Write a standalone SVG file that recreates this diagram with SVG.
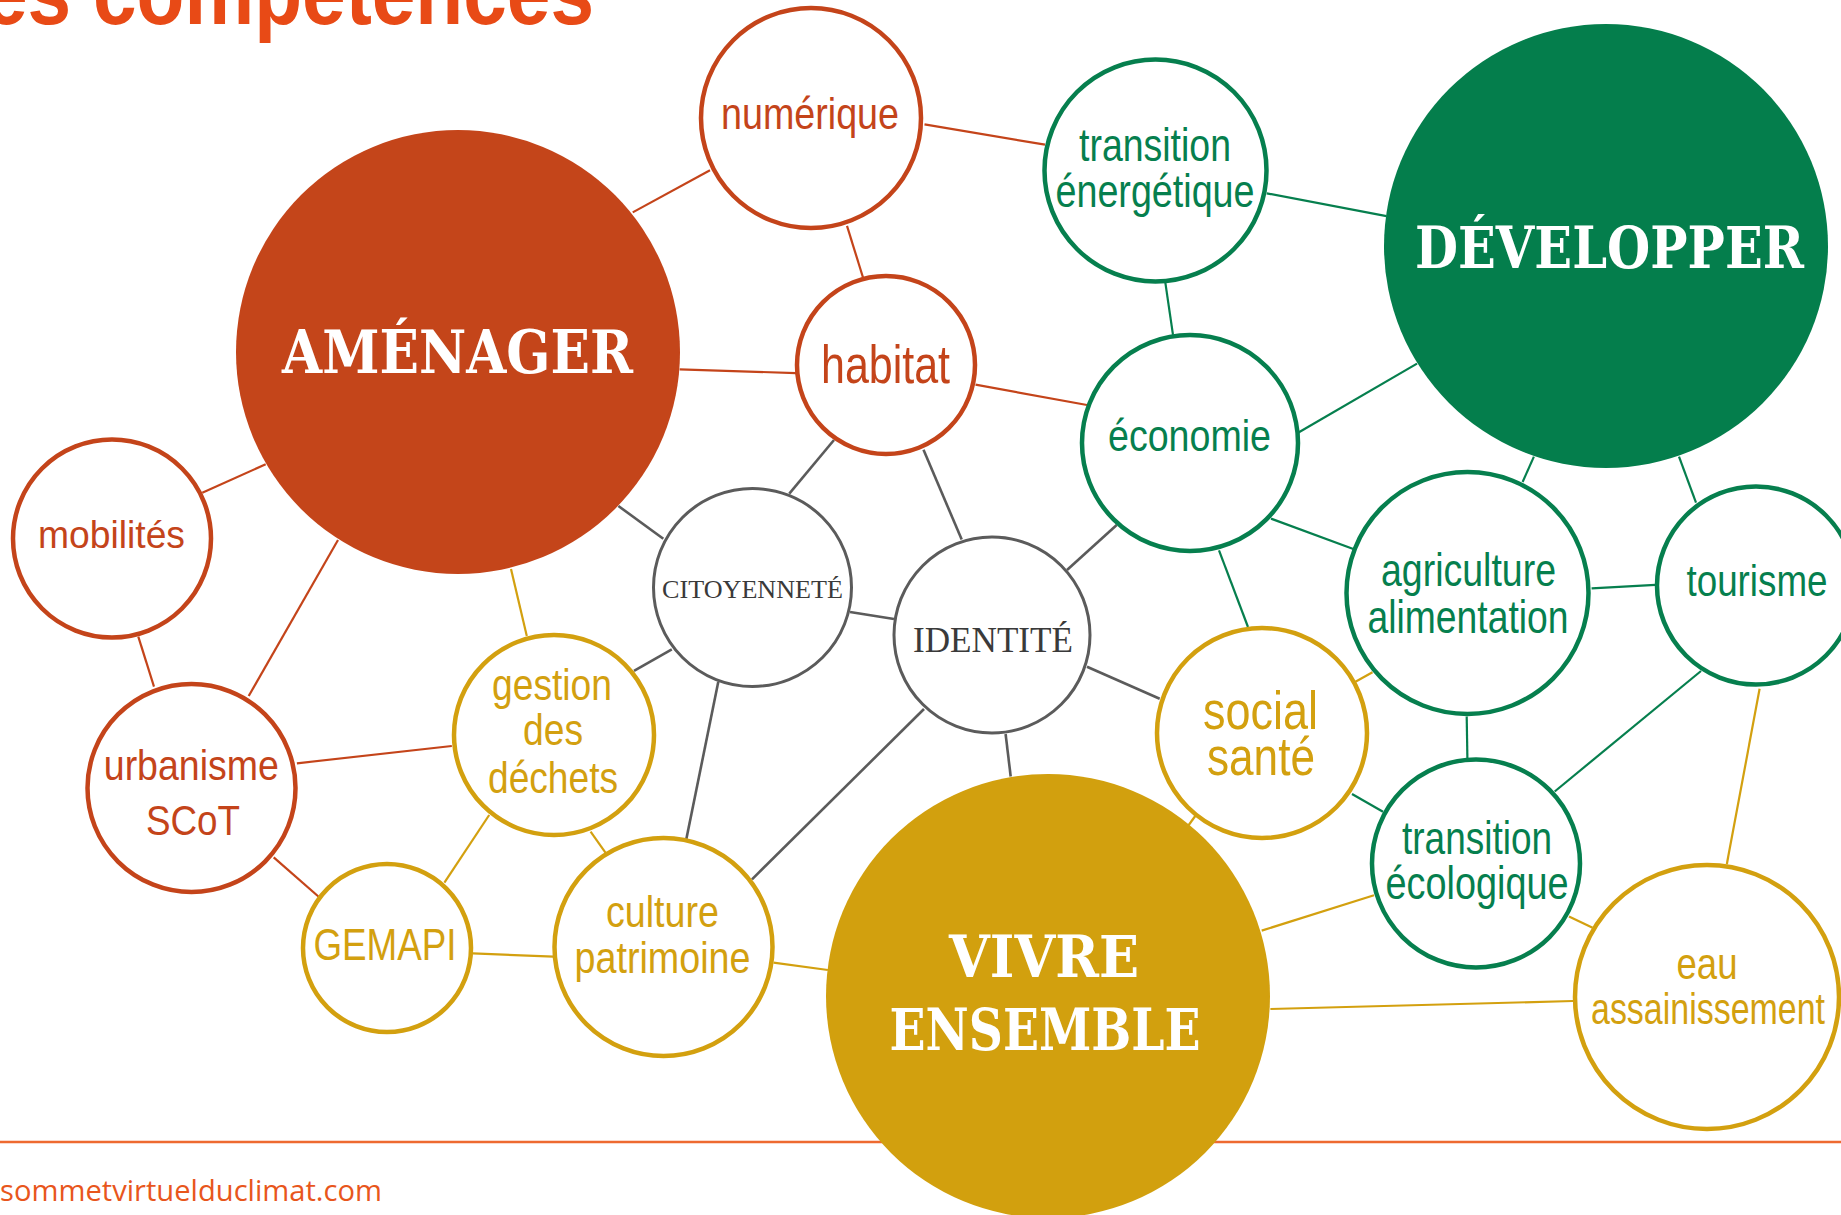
<svg xmlns="http://www.w3.org/2000/svg" width="1841" height="1215" viewBox="0 0 1841 1215">
<style>
.lbl{font-family:"Liberation Sans",Arial,sans-serif;text-anchor:middle}
.big{font-family:"DejaVu Serif","Liberation Serif",serif;font-weight:700;fill:#fff;text-anchor:middle}
.thin{font-family:"Liberation Serif","DejaVu Serif",serif;fill:#3a3a3a;text-anchor:middle}
.o{stroke:#C4441A}
.g{stroke:#067F4E}
.y{stroke:#D3A00F}
.k{stroke:#5B5B5B}
.n{fill:#fff;stroke-width:4.5}
.nk{fill:#fff;stroke-width:3}
.to{fill:#C4441A}.tg{fill:#067F4E}.ty{fill:#D3A00F}
#connectors line{stroke-width:2.2;fill:none}
#connectors line.k{stroke-width:2.6}
</style>
<rect width="1841" height="1215" fill="#fff"/>
<text x="-16" y="24" font-family="'Liberation Sans Narrow','Liberation Sans',Arial,sans-serif" font-weight="700" font-size="90" fill="#E84A16" textLength="610" lengthAdjust="spacingAndGlyphs">es compétences</text>
<line x1="0" y1="1142" x2="1841" y2="1142" stroke="#EE6A30" stroke-width="2.6"/>
<text x="0" y="1201" font-family="'Open Sans','Noto Sans',sans-serif" font-size="29" fill="#E8561C" textLength="382" lengthAdjust="spacingAndGlyphs">sommetvirtuelduclimat.com</text>
<g id="connectors">
<line class="o" x1="632.7" y1="212.4" x2="710" y2="170.3"/>
<line class="o" x1="924.5" y1="124.4" x2="1045" y2="144.7"/>
<line class="o" x1="847" y1="225.8" x2="863" y2="277.5"/>
<line class="o" x1="679.6" y1="369.3" x2="796" y2="373.1"/>
<line class="o" x1="975.5" y1="384.6" x2="1087" y2="405"/>
<line class="g" x1="1266.7" y1="193.3" x2="1386.5" y2="216.2"/>
<line class="g" x1="1165.3" y1="282.4" x2="1173" y2="334.9"/>
<line class="g" x1="1298.5" y1="432.5" x2="1417" y2="363.6"/>
<line class="g" x1="1271" y1="518.6" x2="1354" y2="549.2"/>
<line class="g" x1="1219" y1="550.3" x2="1248" y2="627"/>
<line class="k" x1="1116.7" y1="525" x2="1067" y2="570"/>
<line class="g" x1="1533.9" y1="456.6" x2="1522.6" y2="482"/>
<line class="g" x1="1679" y1="456.7" x2="1696" y2="502.7"/>
<line class="g" x1="1591.6" y1="588.4" x2="1655.4" y2="584.8"/>
<line class="g" x1="1466.7" y1="716.5" x2="1467.4" y2="758"/>
<line class="g" x1="1701" y1="671" x2="1554.7" y2="791.5"/>
<line class="y" x1="1355" y1="682" x2="1372.5" y2="672.3"/>
<line class="g" x1="1352" y1="794" x2="1383" y2="811.8"/>
<line class="y" x1="1261.7" y1="930.6" x2="1374" y2="895.3"/>
<line class="y" x1="1270.4" y1="1009" x2="1573" y2="1001"/>
<line class="y" x1="1569" y1="916.5" x2="1592.6" y2="927.7"/>
<line class="y" x1="1759.6" y1="688.8" x2="1726.8" y2="864.3"/>
<line class="y" x1="1188" y1="826" x2="1196" y2="815"/>
<line class="k" x1="1005.6" y1="734" x2="1010.7" y2="776.5"/>
<line class="k" x1="1087" y1="666.7" x2="1159.7" y2="698.8"/>
<line class="k" x1="924" y1="709" x2="752" y2="879.3"/>
<line class="k" x1="923.5" y1="449.7" x2="961.7" y2="539.6"/>
<line class="k" x1="834" y1="440" x2="789.3" y2="493.7"/>
<line class="k" x1="618.4" y1="506" x2="663.3" y2="538.8"/>
<line class="k" x1="850" y1="612" x2="894" y2="619"/>
<line class="k" x1="671.8" y1="649.3" x2="634" y2="670.8"/>
<line class="k" x1="718.3" y1="681.7" x2="686.3" y2="839.3"/>
<line class="o" x1="202.3" y1="492.7" x2="265.7" y2="464.3"/>
<line class="o" x1="138.3" y1="636.7" x2="154" y2="686.7"/>
<line class="o" x1="338" y1="540" x2="248.7" y2="696"/>
<line class="y" x1="511" y1="569" x2="526.8" y2="636"/>
<line class="o" x1="296.9" y1="763.3" x2="451.8" y2="746"/>
<line class="o" x1="273.7" y1="857.3" x2="318.4" y2="896.5"/>
<line class="y" x1="489.2" y1="815" x2="444.4" y2="882.7"/>
<line class="y" x1="590.6" y1="831.7" x2="606" y2="853.3"/>
<line class="y" x1="472.7" y1="953.3" x2="553.5" y2="956.7"/>
<line class="y" x1="773.5" y1="962.7" x2="827.9" y2="970"/>
</g>
<g id="amenager"><circle cx="458" cy="352" r="222" fill="#C4451A"/><text class="big" x="457.5" y="373" font-size="59" textLength="351" lengthAdjust="spacingAndGlyphs">AMÉNAGER</text></g>
<g id="developper"><circle cx="1606" cy="246" r="222" fill="#047E4C"/><text class="big" x="1609.5" y="268" font-size="57" textLength="389" lengthAdjust="spacingAndGlyphs">DÉVELOPPER</text></g>
<g id="vivre-ensemble"><circle cx="1048" cy="996" r="222" fill="#D2A00E"/><text class="big" x="1044" y="977" font-size="58" textLength="190" lengthAdjust="spacingAndGlyphs">VIVRE</text><text class="big" x="1045" y="1050" font-size="58" textLength="311" lengthAdjust="spacingAndGlyphs">ENSEMBLE</text></g>
<g id="numerique"><circle class="n o" cx="811" cy="118" r="110"/><text class="lbl to" x="810" y="129" font-size="44" textLength="178" lengthAdjust="spacingAndGlyphs">numérique</text></g>
<g id="habitat"><circle class="n o" cx="886" cy="365" r="89"/><text class="lbl to" x="885.5" y="383" font-size="54" textLength="129" lengthAdjust="spacingAndGlyphs">habitat</text></g>
<g id="mobilites"><circle class="n o" cx="112" cy="538.5" r="99"/><text class="lbl to" x="111.5" y="548" font-size="38" textLength="147" lengthAdjust="spacingAndGlyphs">mobilités</text></g>
<g id="urbanisme"><circle class="n o" cx="191.5" cy="788" r="104"/><text class="lbl to" x="191.3" y="780" font-size="42" textLength="175" lengthAdjust="spacingAndGlyphs">urbanisme</text><text class="lbl to" x="193" y="835" font-size="42" textLength="94" lengthAdjust="spacingAndGlyphs">SCoT</text></g>
<g id="transition-energetique"><circle class="n g" cx="1155.5" cy="170.5" r="111"/><text class="lbl tg" x="1155" y="161" font-size="46" textLength="152" lengthAdjust="spacingAndGlyphs">transition</text><text class="lbl tg" x="1155" y="207" font-size="46" textLength="199" lengthAdjust="spacingAndGlyphs">énergétique</text></g>
<g id="economie"><circle class="n g" cx="1190" cy="443" r="108"/><text class="lbl tg" x="1189.5" y="451" font-size="44" textLength="163" lengthAdjust="spacingAndGlyphs">économie</text></g>
<g id="agriculture"><circle class="n g" cx="1467.5" cy="593" r="121"/><text class="lbl tg" x="1468.5" y="586" font-size="46" textLength="175" lengthAdjust="spacingAndGlyphs">agriculture</text><text class="lbl tg" x="1468" y="633" font-size="46" textLength="201" lengthAdjust="spacingAndGlyphs">alimentation</text></g>
<g id="tourisme"><circle class="n g" cx="1756" cy="585.5" r="99"/><text class="lbl tg" x="1757" y="596" font-size="45" textLength="141" lengthAdjust="spacingAndGlyphs">tourisme</text></g>
<g id="transition-ecologique"><circle class="n g" cx="1476" cy="863.5" r="104"/><text class="lbl tg" x="1477" y="854" font-size="46" textLength="150" lengthAdjust="spacingAndGlyphs">transition</text><text class="lbl tg" x="1477" y="899" font-size="46" textLength="183" lengthAdjust="spacingAndGlyphs">écologique</text></g>
<g id="eau"><circle class="n y" cx="1707" cy="997" r="132"/><text class="lbl ty" x="1707" y="979" font-size="44" textLength="61" lengthAdjust="spacingAndGlyphs">eau</text><text class="lbl ty" x="1708" y="1024" font-size="44" textLength="234" lengthAdjust="spacingAndGlyphs">assainissement</text></g>
<g id="social-sante"><circle class="n y" cx="1262" cy="733" r="105"/><text class="lbl ty" x="1260.5" y="729" font-size="54" textLength="115" lengthAdjust="spacingAndGlyphs">social</text><text class="lbl ty" x="1261" y="775" font-size="54" textLength="108" lengthAdjust="spacingAndGlyphs">santé</text></g>
<g id="gestion-dechets"><circle class="n y" cx="554" cy="735" r="100"/><text class="lbl ty" x="552" y="700" font-size="44" textLength="120" lengthAdjust="spacingAndGlyphs">gestion</text><text class="lbl ty" x="553" y="745" font-size="44" textLength="60" lengthAdjust="spacingAndGlyphs">des</text><text class="lbl ty" x="553" y="793" font-size="44" textLength="130" lengthAdjust="spacingAndGlyphs">déchets</text></g>
<g id="gemapi"><circle class="n y" cx="387" cy="948" r="84"/><text class="lbl ty" x="385" y="960" font-size="44" textLength="143" lengthAdjust="spacingAndGlyphs">GEMAPI</text></g>
<g id="culture-patrimoine"><circle class="n y" cx="663.5" cy="947" r="109"/><text class="lbl ty" x="662.5" y="927" font-size="44" textLength="113" lengthAdjust="spacingAndGlyphs">culture</text><text class="lbl ty" x="662.5" y="973" font-size="44" textLength="176" lengthAdjust="spacingAndGlyphs">patrimoine</text></g>
<g id="citoyennete"><circle class="nk k" cx="752.5" cy="587.5" r="99"/><text class="thin" x="752.5" y="598" font-size="26" textLength="181" lengthAdjust="spacingAndGlyphs">CITOYENNETÉ</text></g>
<g id="identite"><circle class="nk k" cx="992" cy="635" r="98"/><text class="thin" x="993" y="652" font-size="36" textLength="160" lengthAdjust="spacingAndGlyphs">IDENTITÉ</text></g>
</svg>
